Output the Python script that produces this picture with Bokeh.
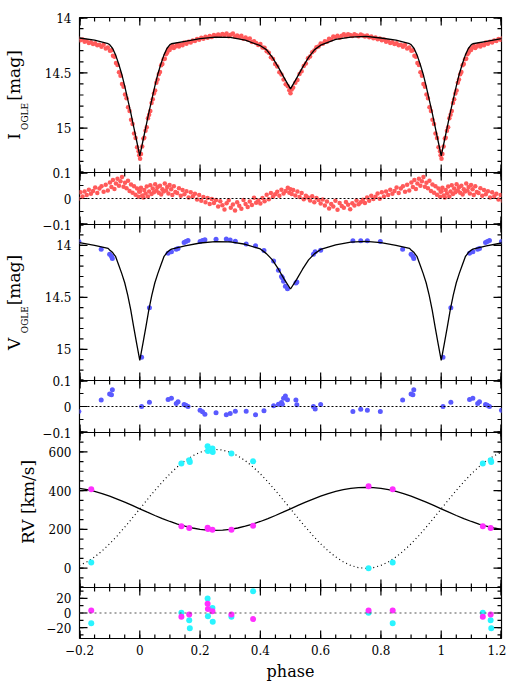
import numpy as np
from bokeh.plotting import figure
from bokeh.models import (Range1d, LinearAxis, SingleIntervalTicker, FixedTicker,
                          CustomJSTickFormatter, Span)
from bokeh.layouts import column
from bokeh.embed import file_html
from bokeh.resources import INLINE

# ---------------- data ----------------
# I-band OGLE photometry (phase in [0,1)), magnitudes and O-C residuals
I_phase = [0.001, 0.004, 0.008, 0.012, 0.015, 0.019, 0.023, 0.027, 0.031, 0.035,
           0.039, 0.043, 0.047, 0.051, 0.055, 0.059, 0.063, 0.067, 0.071, 0.075,
           0.079, 0.083, 0.087, 0.091, 0.095, 0.099, 0.104, 0.108, 0.113, 0.118,
           0.124, 0.130, 0.136, 0.142, 0.148, 0.155, 0.162, 0.169, 0.176, 0.183,
           0.190, 0.197, 0.204, 0.211, 0.218, 0.225, 0.232, 0.239, 0.246, 0.253,
           0.260, 0.267, 0.274, 0.281, 0.288, 0.295, 0.302, 0.309, 0.316, 0.323,
           0.330, 0.337, 0.344, 0.351, 0.358, 0.365, 0.372, 0.379, 0.386, 0.393,
           0.400, 0.407, 0.414, 0.421, 0.428, 0.435, 0.442, 0.449, 0.456, 0.463,
           0.470, 0.477, 0.484, 0.491, 0.496, 0.500, 0.504, 0.509, 0.516, 0.523,
           0.530, 0.537, 0.544, 0.551, 0.558, 0.565, 0.572, 0.579, 0.586, 0.593,
           0.600, 0.607, 0.614, 0.621, 0.628, 0.635, 0.642, 0.649, 0.656, 0.663,
           0.670, 0.677, 0.684, 0.691, 0.698, 0.705, 0.712, 0.719, 0.726, 0.733,
           0.740, 0.747, 0.754, 0.761, 0.768, 0.775, 0.782, 0.789, 0.796, 0.803,
           0.810, 0.817, 0.824, 0.831, 0.838, 0.845, 0.852, 0.859, 0.866, 0.873,
           0.880, 0.887, 0.894, 0.901, 0.906, 0.911, 0.916, 0.921, 0.926, 0.931,
           0.936, 0.941, 0.946, 0.951, 0.956, 0.961, 0.966, 0.971, 0.976, 0.981,
           0.986, 0.991, 0.996, 0.998]
I_mag = [15.275, 15.233, 15.166, 15.094, 15.085, 15.023, 14.991, 14.909, 14.878, 14.845,
         14.772, 14.739, 14.686, 14.659, 14.590, 14.561, 14.513, 14.492, 14.432, 14.420,
         14.378, 14.372, 14.333, 14.317, 14.287, 14.293, 14.272, 14.258, 14.275, 14.262,
         14.244, 14.262, 14.243, 14.250, 14.226, 14.237, 14.219, 14.225, 14.207, 14.213,
         14.195, 14.201, 14.184, 14.191, 14.174, 14.182, 14.166, 14.175, 14.158, 14.168,
         14.153, 14.164, 14.149, 14.159, 14.145, 14.170, 14.156, 14.145, 14.173, 14.162,
         14.175, 14.164, 14.192, 14.181, 14.198, 14.190, 14.222, 14.214, 14.231, 14.248,
         14.240, 14.272, 14.274, 14.304, 14.318, 14.358, 14.374, 14.420, 14.442, 14.495,
         14.515, 14.560, 14.604, 14.622, 14.656, 14.685, 14.651, 14.632, 14.589, 14.565,
         14.510, 14.485, 14.437, 14.415, 14.369, 14.353, 14.313, 14.299, 14.269, 14.262,
         14.235, 14.238, 14.215, 14.218, 14.191, 14.198, 14.171, 14.179, 14.165, 14.183,
         14.165, 14.152, 14.170, 14.152, 14.159, 14.167, 14.151, 14.160, 14.169, 14.153,
         14.162, 14.171, 14.162, 14.179, 14.171, 14.188, 14.180, 14.197, 14.189, 14.206,
         14.199, 14.218, 14.212, 14.230, 14.223, 14.240, 14.232, 14.251, 14.245, 14.265,
         14.245, 14.280, 14.270, 14.300, 14.295, 14.345, 14.355, 14.410, 14.430, 14.495,
         14.525, 14.600, 14.625, 14.695, 14.730, 14.810, 14.845, 14.923, 14.963, 15.048,
         15.088, 15.173, 15.208, 15.245]
I_res = [0.028, 0.041, 0.012, 0.004, 0.033, 0.019, 0.046, 0.008, 0.027, 0.051,
         0.017, 0.038, 0.024, 0.055, 0.031, 0.043, 0.022, 0.049, 0.015, 0.036,
         0.027, 0.058, 0.031, 0.044, 0.019, 0.052, 0.036, 0.013, 0.047, 0.025,
         0.021, 0.039, 0.011, 0.033, 0.016, 0.028, 0.004, 0.024, 0.009, 0.018,
         -0.004, 0.013, -0.009, 0.006, -0.014, 0.002, -0.021, -0.002, -0.017, -0.006,
         -0.031, -0.011, -0.026, -0.042, -0.018, -0.007, -0.036, -0.023, -0.046, -0.014,
         -0.028, -0.039, -0.006, -0.021, -0.033, -0.012, -0.025, 0.003, -0.016, -0.008,
         -0.019, 0.002, -0.011, 0.014, -0.003, 0.021, 0.007, 0.016, 0.026, 0.011,
         0.034, 0.019, 0.029, 0.041, 0.022, 0.036, 0.017, 0.033, 0.012, 0.027,
         0.006, 0.021, -0.003, 0.011, 0.004, -0.008, 0.009, -0.014, 0.002, -0.006,
         -0.019, -0.004, -0.027, -0.012, -0.038, -0.021, -0.031, -0.009, -0.043, -0.017,
         -0.029, -0.036, -0.013, -0.024, -0.041, -0.018, -0.027, -0.008, -0.022, -0.014,
         -0.005, -0.017, 0.004, -0.009, 0.011, -0.002, 0.007, 0.019, -0.001, 0.024,
         0.008, 0.027, 0.013, 0.034, 0.018, 0.029, 0.042, 0.021, 0.038, 0.047,
         0.026, 0.053, 0.031, 0.062, 0.044, 0.071, 0.037, 0.058, 0.076, 0.049,
         0.066, 0.083, 0.045, 0.061, 0.039, 0.068, 0.029, 0.054, 0.022, 0.047,
         0.014, 0.038, 0.007, 0.026]

# light-curve models
MOD_phase = [0.0, 0.01, 0.02, 0.03, 0.04, 0.05, 0.06, 0.07, 0.08, 0.09, 0.10,
             0.105, 0.15, 0.20, 0.25, 0.30, 0.35, 0.40, 0.42, 0.44, 0.46, 0.48,
             0.50, 0.52, 0.54, 0.56, 0.58, 0.60, 0.65, 0.70, 0.75, 0.80, 0.85,
             0.895, 0.90, 0.91, 0.92, 0.93, 0.94, 0.95, 0.96, 0.97, 0.98, 0.99, 1.0]
I_mod = [15.25, 15.12, 14.99, 14.86, 14.74, 14.62, 14.51, 14.42, 14.34, 14.28, 14.245,
         14.237, 14.215, 14.19, 14.178, 14.18, 14.205, 14.255, 14.29, 14.36, 14.45, 14.55,
         14.645, 14.55, 14.45, 14.36, 14.29, 14.25, 14.198, 14.178, 14.171, 14.185, 14.205,
         14.237, 14.245, 14.28, 14.34, 14.42, 14.51, 14.62, 14.74, 14.86, 14.99, 15.12, 15.25]
V_mod = [15.107, 14.95, 14.79, 14.62, 14.48, 14.36, 14.27, 14.19, 14.11, 14.07, 14.045,
         14.037, 14.005, 13.978, 13.965, 13.968, 13.99, 14.035, 14.08, 14.14, 14.23, 14.33,
         14.42, 14.33, 14.23, 14.14, 14.08, 14.04, 13.995, 13.97, 13.963, 13.975, 14.0,
         14.03, 14.045, 14.07, 14.11, 14.19, 14.27, 14.36, 14.48, 14.62, 14.79, 14.95, 15.107]

# V-band OGLE photometry
V_phase = [0.006, 0.032, 0.094, 0.105, 0.121, 0.127, 0.147, 0.153, 0.160, 0.200,
           0.208, 0.216, 0.253, 0.287, 0.300, 0.317, 0.353, 0.384, 0.412, 0.444,
           0.460, 0.470, 0.473, 0.477, 0.483, 0.490, 0.518, 0.521, 0.576, 0.582,
           0.600, 0.707, 0.733, 0.755, 0.798, 0.872, 0.900, 0.906, 0.909]
V_mag = [15.077, 14.600, 14.076, 14.063, 14.037, 14.030, 13.972, 13.963, 13.955, 13.963,
         13.955, 13.946, 13.943, 13.940, 13.950, 13.960, 13.988, 14.005, 14.050, 14.151,
         14.239, 14.300, 14.313, 14.346, 14.394, 14.417, 14.362, 14.352, 14.086, 14.063,
         14.047, 13.956, 13.956, 13.956, 13.963, 14.037, 14.086, 14.105, 14.128]
V_res = [0.000, 0.016, 0.027, 0.032, 0.012, 0.018, 0.008, 0.005, 0.000, -0.014,
         -0.020, -0.030, -0.024, -0.032, -0.027, -0.018, -0.018, -0.032, -0.016, 0.003,
         0.009, 0.015, 0.009, 0.032, 0.040, 0.026, 0.025, 0.007, 0.000, -0.010,
         0.008, -0.019, -0.011, -0.014, -0.019, 0.025, 0.048, 0.045, 0.064]

# radial velocities [km/s]
RV1_phase = [0.138, 0.164, 0.225, 0.226, 0.241, 0.304, 0.376, 0.759, 0.839]
RV1 = [215.5, 206.6, 209.0, 202.0, 198.0, 198.4, 219.0, 422.0, 406.7]
RV1_res = [-5.3, -2.2, 12.6, 5.5, 2.5, -2.2, -8.4, 3.6, 3.6]
RV2_phase = [0.138, 0.164, 0.166, 0.225, 0.226, 0.241, 0.242, 0.304, 0.376, 0.759, 0.839]
RV2 = [539.5, 556.6, 548.0, 629.0, 604.7, 617.0, 599.5, 591.0, 551.0, 0.0, 29.5]
RV2_res = [0.5, -10.0, -21.0, 20.0, -4.4, 6.7, -12.0, -5.3, 30.0, 0.5, -14.0]

# RV model curves on a phase grid 0..1 (step 0.025)
RV_mod_phase = list(np.linspace(0.0, 1.0, 41))
RV1_mod = [306.0, 288.6, 271.7, 255.6, 240.7, 227.5, 216.2, 207.1, 200.4, 196.4,
           195.0, 196.4, 200.4, 207.1, 216.2, 227.5, 240.7, 255.6, 271.7, 288.6,
           306.0, 323.4, 340.3, 356.4, 371.3, 384.5, 395.8, 404.9, 411.6, 415.6,
           417.0, 415.6, 411.6, 404.9, 395.8, 384.5, 371.3, 356.4, 340.3, 323.4, 306.0]
RV2_mod = [306.0, 354.0, 400.9, 445.4, 486.5, 523.1, 554.4, 579.5, 598.0, 609.2,
           613.0, 609.2, 598.0, 579.5, 554.4, 523.1, 486.5, 445.4, 400.9, 354.0,
           306.0, 258.0, 211.1, 166.6, 125.5, 88.9, 57.6, 32.5, 14.0, 2.8,
           -1.0, 2.8, 14.0, 32.5, 57.6, 88.9, 125.5, 166.6, 211.1, 258.0, 306.0]

# axis ticks
X_TICKS = [-0.2, 0.0, 0.2, 0.4, 0.6, 0.8, 1.0, 1.2]
X_MINOR = [round(float(v), 3) for v in np.arange(-0.2, 1.2001, 0.05)]

# ---------------- styling ----------------
FONT = "DejaVu Serif"
RED = "#ff5a5a"
BLUE = "#5a5aff"
CYAN = "#2af4ff"
MAGENTA = "#ff30ff"
NB = "\u00a0"
X0, X1 = -0.2, 1.2
FRAME_W = 422

FMT = "var s = Number(tick.toFixed(6)).toString(); return s.replace('-', '\u2212');"
EMPTY = "return '';"


def wrap(ph, vals):
    """Repeat phased data one cycle to each side (plot shows -0.2..1.2)."""
    ph = np.asarray(ph, dtype=float)
    vals = np.asarray(vals, dtype=float)
    return np.concatenate([ph - 1, ph, ph + 1]), np.concatenate([vals, vals, vals])


def no_tick_kw():
    return dict(major_tick_in=0, major_tick_out=0, minor_tick_in=0, minor_tick_out=0,
                axis_line_color=None)


def tick_marks(p, yr, frame_h, interval, nminor):
    """Inward tick marks drawn as thin quads lying wholly inside the frame."""
    top, bot = float(yr.end), float(yr.start)
    lo, hi = min(top, bot), max(top, bot)
    y_major = [round(float(v), 4) for v in
               np.arange(np.ceil(lo / interval - 1e-9) * interval, hi + 1e-9, interval)]
    step = interval / nminor
    y_minor = [round(float(v), 4) for v in
               np.arange(np.ceil(lo / step - 1e-9) * step, hi + 1e-9, step)]
    dy = (bot - top) / frame_h          # data per pixel, going down from the top edge
    dx = (X1 - X0) / FRAME_W            # data per pixel, going right
    hw = 0.6                            # half tick width [px]
    eps = 0.4                           # start just inside the edge [px]
    kw = dict(fill_color="black", line_color=None)
    for xs, L in ((X_TICKS, 8), (X_MINOR, 4)):
        xs = [min(max(v, X0 + dx * hw), X1 - dx * hw) for v in xs]
        n = len(xs)
        lefts = [v - dx * hw for v in xs]
        rights = [v + dx * hw for v in xs]
        # top edge (bars hang down) and bottom edge (bars stand up)
        p.quad(left=lefts, right=rights, top=[top + dy * eps] * n,
               bottom=[top + dy * L] * n, **kw)
        p.quad(left=lefts, right=rights, top=[bot - dy * L] * n,
               bottom=[bot - dy * eps] * n, **kw)
    for ys, L in ((y_major, 8), (y_minor, 4)):
        ys = [min(max(v, lo + abs(dy) * hw), hi - abs(dy) * hw) for v in ys]
        n = len(ys)
        tops = [v - dy * hw for v in ys]
        bots = [v + dy * hw for v in ys]
        p.quad(left=[X0 + dx * eps] * n, right=[X0 + dx * L] * n,
               top=tops, bottom=bots, **kw)
        p.quad(left=[X1 - dx * L] * n, right=[X1 - dx * eps] * n,
               top=tops, bottom=bots, **kw)


def make_fig(yr, frame_h, interval, nminor, top, bottom, xlabels=False,
             ylabel=None, sub=None, sub_pad=0):
    p = figure(x_range=Range1d(X0, X1), y_range=yr, frame_width=FRAME_W,
               frame_height=frame_h, output_backend="svg", toolbar_location=None,
               x_axis_location=None, y_axis_location=None,
               min_border_left=74, min_border_right=10,
               min_border_top=top, min_border_bottom=bottom,
               background_fill_alpha=0, border_fill_alpha=0,
               outline_line_color="black", outline_line_width=1.2)
    p.xgrid.visible = False
    p.ygrid.visible = False

    left = LinearAxis(ticker=SingleIntervalTicker(interval=interval, num_minor_ticks=nminor),
                      formatter=CustomJSTickFormatter(code=FMT),
                      major_label_text_font=FONT, major_label_text_font_size="12px",
                      major_label_text_color="black", major_label_standoff=8,
                      **no_tick_kw())
    if sub is not None:
        left.axis_label = sub + NB * sub_pad
        left.axis_label_text_font = FONT
        left.axis_label_text_font_size = "9px"
        left.axis_label_text_font_style = "normal"
        left.axis_label_text_color = "black"
        left.axis_label_standoff = 12
    elif ylabel is not None:
        left.axis_label = ylabel
        left.axis_label_text_font = FONT
        left.axis_label_text_font_size = "17px"
        left.axis_label_text_font_style = "normal"
        left.axis_label_text_color = "black"
        left.axis_label_standoff = 8
    p.add_layout(left, "left")

    if sub is not None:
        outer = LinearAxis(ticker=SingleIntervalTicker(interval=interval, num_minor_ticks=nminor),
                           formatter=CustomJSTickFormatter(code=EMPTY),
                           major_label_text_font_size="0px", major_label_standoff=0,
                           axis_label=ylabel, axis_label_text_font=FONT,
                           axis_label_text_font_size="17px",
                           axis_label_text_font_style="normal",
                           axis_label_text_color="black", axis_label_standoff=-7,
                           **no_tick_kw())
        p.add_layout(outer, "left")

    if xlabels:
        bottom_ax = LinearAxis(ticker=FixedTicker(ticks=X_TICKS, minor_ticks=X_MINOR),
                               formatter=CustomJSTickFormatter(code=FMT),
                               major_label_text_font=FONT, major_label_text_font_size="12px",
                               major_label_text_color="black", major_label_standoff=6,
                               axis_label="phase", axis_label_text_font=FONT,
                               axis_label_text_font_size="16px",
                               axis_label_text_font_style="normal",
                               axis_label_text_color="black", axis_label_standoff=4,
                               **no_tick_kw())
        p.add_layout(bottom_ax, "below")

    tick_marks(p, yr, frame_h, interval, nminor)
    return p


def zero_line(p, color="black", dash="2 2"):
    p.add_layout(Span(location=0, dimension="width", line_color=color,
                      line_dash=dash, line_width=1.2))


MAIN_GAP = NB * 6

# ---- panel 1: I light curve
f1 = make_fig(Range1d(15.4, 14.0), 155, 0.5, 5, 17, 8,
              ylabel="I" + MAIN_GAP + "[mag]", sub="OGLE", sub_pad=15)
x, y = wrap(I_phase, I_mag)
f1.scatter(x, y, size=4.5, color=RED, line_color=None)
x, y = wrap(MOD_phase, I_mod)
f1.line(x, y, line_color="black", line_width=1.3)

# ---- panel 2: I residuals
f2 = make_fig(Range1d(-0.1, 0.1), 52, 0.1, 2, 8, 8)
zero_line(f2)
x, y = wrap(I_phase, I_res)
f2.scatter(x, y, size=4.5, color=RED, line_color=None)

# ---- panel 3: V light curve
f3 = make_fig(Range1d(15.3, 13.8), 156, 0.5, 5, 8, 8,
              ylabel="V" + MAIN_GAP + "[mag]", sub="OGLE", sub_pad=12)
x, y = wrap(V_phase, V_mag)
f3.scatter(x, y, size=5, color=BLUE, line_color=None)
x, y = wrap(MOD_phase, V_mod)
f3.line(x, y, line_color="black", line_width=1.3)

# ---- panel 4: V residuals
f4 = make_fig(Range1d(-0.1, 0.1), 52, 0.1, 2, 8, 8)
zero_line(f4)
x, y = wrap(V_phase, V_res)
f4.scatter(x, y, size=5, color=BLUE, line_color=None)

# ---- panel 5: radial velocities
f5 = make_fig(Range1d(-100, 700), 155, 200, 4, 8, 8, ylabel=NB * 3 + "RV [km/s]")
x, y = wrap(RV_mod_phase, RV2_mod)
f5.line(x, y, line_color="black", line_width=1.2, line_dash="1 3")
x, y = wrap(RV_mod_phase, RV1_mod)
f5.line(x, y, line_color="black", line_width=1.3)
x, y = wrap(RV2_phase, RV2)
f5.scatter(x, y, size=6, color=CYAN, line_color=None)
x, y = wrap(RV1_phase, RV1)
f5.scatter(x, y, size=6, color=MAGENTA, line_color=None)

# ---- panel 6: RV residuals
f6 = make_fig(Range1d(-35, 35), 51, 20, 2, 8, 43, xlabels=True)
zero_line(f6, color="#555555", dash="2 3")
x, y = wrap(RV2_phase, RV2_res)
f6.scatter(x, y, size=6, color=CYAN, line_color=None)
x, y = wrap(RV1_phase, RV1_res)
f6.scatter(x, y, size=6, color=MAGENTA, line_color=None)

figs = [f1, f2, f3, f4, f5, f6]
for f in figs[1:]:
    f.margin = (-16, 0, 0, 0)

layout = column(*figs, spacing=0)

open("out.html", "w").write(file_html(layout, INLINE))
